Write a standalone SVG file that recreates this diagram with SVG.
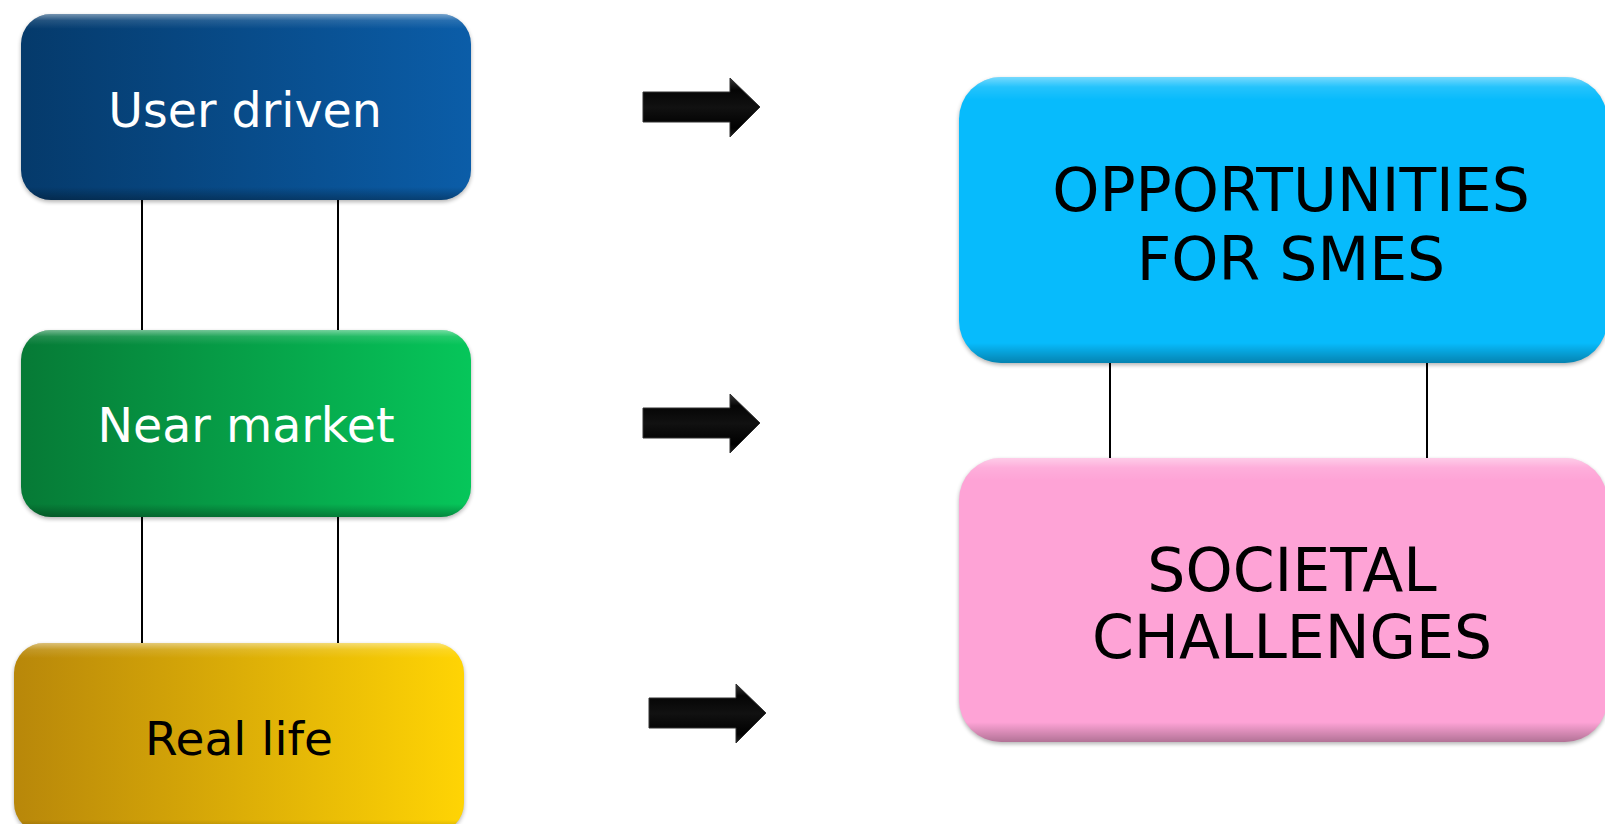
<svg xmlns="http://www.w3.org/2000/svg" width="1605" height="824" viewBox="0 0 1605 824">
<style>
  .lbl { font-family: "DejaVu Sans", Verdana, sans-serif; text-anchor: middle; }
  .w { fill: #ffffff; font-size: 47.5px; }
  .b { fill: #000000; font-size: 47px; }
  .big { fill: #000000; font-size: 60px; }
  .conn { stroke: #000; stroke-width: 2; fill: none; }
</style>
<defs>
  <linearGradient id="gBlue" x1="0" y1="0" x2="1" y2="0">
    <stop offset="0" stop-color="#053a6b"/>
    <stop offset="1" stop-color="#0b5da8"/>
  </linearGradient>
  <linearGradient id="gGreen" x1="0" y1="0" x2="1" y2="0">
    <stop offset="0" stop-color="#067a36"/>
    <stop offset="1" stop-color="#06c65a"/>
  </linearGradient>
  <linearGradient id="gYellow" x1="0" y1="0" x2="1" y2="0">
    <stop offset="0" stop-color="#b8870a"/>
    <stop offset="1" stop-color="#ffd404"/>
  </linearGradient>
  <linearGradient id="bevel" x1="0" y1="0" x2="0" y2="1">
    <stop offset="0" stop-color="#ffffff" stop-opacity="0.45"/>
    <stop offset="0.035" stop-color="#ffffff" stop-opacity="0.12"/>
    <stop offset="0.08" stop-color="#ffffff" stop-opacity="0"/>
    <stop offset="0.93" stop-color="#000000" stop-opacity="0"/>
    <stop offset="1" stop-color="#000000" stop-opacity="0.3"/>
  </linearGradient>
  <linearGradient id="arrowG" x1="0" y1="0" x2="0" y2="1">
    <stop offset="0" stop-color="#3a3a3a"/>
    <stop offset="0.2" stop-color="#050505"/>
    <stop offset="0.5" stop-color="#111"/>
    <stop offset="0.85" stop-color="#000"/>
    <stop offset="1" stop-color="#222"/>
  </linearGradient>
  <filter id="sh" x="-5%" y="-5%" width="110%" height="115%">
    <feGaussianBlur stdDeviation="2"/>
  </filter>
  <path id="arrow" d="M643,92 H730 V78 L760,107 L730,137 V122 H643 Z"/>
</defs>

<rect width="1605" height="824" fill="#ffffff"/>

<g id="connectors">
  <line class="conn" x1="142" y1="198" x2="142" y2="332"/>
  <line class="conn" x1="338" y1="198" x2="338" y2="332"/>
  <line class="conn" x1="142" y1="515" x2="142" y2="645"/>
  <line class="conn" x1="338" y1="515" x2="338" y2="645"/>
  <line class="conn" x1="1110" y1="358" x2="1110" y2="460"/>
  <line class="conn" x1="1427" y1="358" x2="1427" y2="460"/>
  <g id="arrows" fill="url(#arrowG)" stroke="#333" stroke-width="1">
    <use href="#arrow"/>
    <use href="#arrow" transform="translate(0,316)"/>
    <use href="#arrow" transform="translate(6,606)"/>
  </g>
</g>

<g id="node-user-driven">
  <rect x="21" y="16" width="450" height="186" rx="30" fill="#000" opacity="0.3" filter="url(#sh)"/>
  <rect x="21" y="14" width="450" height="186" rx="30" fill="url(#gBlue)"/>
  <rect x="21" y="14" width="450" height="186" rx="30" fill="url(#bevel)"/>
  <text class="lbl w" x="245" y="127">User driven</text>
</g>

<g id="node-near-market">
  <rect x="21" y="332" width="450" height="187" rx="30" fill="#000" opacity="0.3" filter="url(#sh)"/>
  <rect x="21" y="330" width="450" height="187" rx="30" fill="url(#gGreen)"/>
  <rect x="21" y="330" width="450" height="187" rx="30" fill="url(#bevel)"/>
  <text class="lbl w" x="246" y="442">Near market</text>
</g>

<g id="node-real-life">
  <rect x="14" y="645" width="450" height="190" rx="30" fill="#000" opacity="0.3" filter="url(#sh)"/>
  <rect x="14" y="643" width="450" height="190" rx="30" fill="url(#gYellow)"/>
  <rect x="14" y="643" width="450" height="190" rx="30" fill="url(#bevel)"/>
  <text class="lbl b" x="239" y="755">Real life</text>
</g>

<g id="node-opportunities">
  <rect x="959" y="79" width="648" height="286" rx="42" fill="#000" opacity="0.3" filter="url(#sh)"/>
  <rect x="959" y="77" width="648" height="286" rx="42" fill="#07bbfc"/>
  <rect x="959" y="77" width="648" height="286" rx="42" fill="url(#bevel)"/>
  <text class="lbl big" x="1291" y="211">OPPORTUNITIES</text>
  <text class="lbl big" x="1291" y="280">FOR SMES</text>
</g>

<g id="node-societal">
  <rect x="959" y="460" width="648" height="284" rx="42" fill="#000" opacity="0.3" filter="url(#sh)"/>
  <rect x="959" y="458" width="648" height="284" rx="42" fill="#fea3d6"/>
  <rect x="959" y="458" width="648" height="284" rx="42" fill="url(#bevel)"/>
  <text class="lbl big" x="1292" y="591">SOCIETAL</text>
  <text class="lbl big" x="1292" y="658">CHALLENGES</text>
</g>
</svg>
